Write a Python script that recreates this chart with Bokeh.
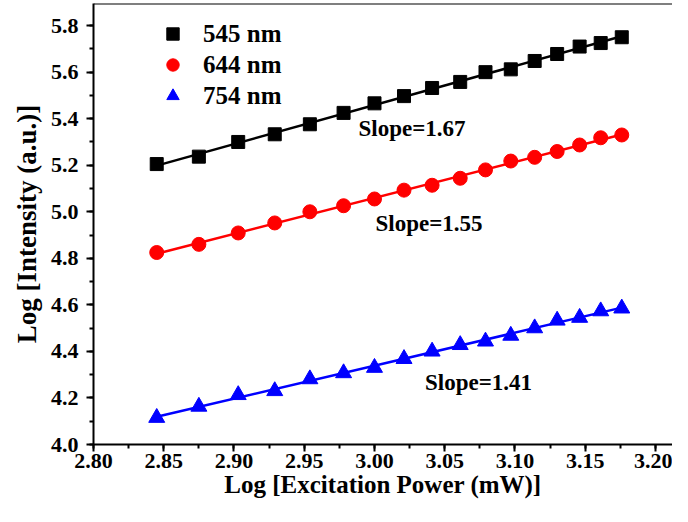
import numpy as np
from bokeh.plotting import figure
from bokeh.models import (Range1d, SingleIntervalTicker, NumeralTickFormatter,
                          Legend, LegendItem, Label, Span)
from bokeh.embed import file_html
from bokeh.resources import INLINE

# ---- data ----
log_power = [2.845, 2.875, 2.903, 2.929, 2.954, 2.978, 3.000, 3.021, 3.041,
             3.061, 3.079, 3.097, 3.114, 3.130, 3.146, 3.161, 3.176]
int_545 = [5.205, 5.237, 5.300, 5.333, 5.376, 5.425, 5.466, 5.497, 5.532,
           5.558, 5.600, 5.612, 5.648, 5.678, 5.710, 5.725, 5.750]
int_644 = [4.825, 4.860, 4.909, 4.952, 5.000, 5.026, 5.055, 5.093, 5.114,
           5.144, 5.180, 5.218, 5.234, 5.259, 5.287, 5.318, 5.330]
int_754 = [4.115, 4.163, 4.213, 4.230, 4.281, 4.307, 4.330, 4.368, 4.400,
           4.428, 4.443, 4.468, 4.500, 4.533, 4.545, 4.573, 4.585]
series_names = ["545 nm", "644 nm", "754 nm"]
slope_texts = ["Slope=1.67", "Slope=1.55", "Slope=1.41"]

FONT = "Liberation Serif"
Y_END = 5.895

p = figure(width=672, height=506, output_backend="svg", toolbar_location=None,
           x_range=Range1d(2.80, 3.2121), y_range=Range1d(4.0, Y_END),
           min_border_left=93, min_border_right=0, min_border_top=3,
           min_border_bottom=62)
p.outline_line_color = None
p.xgrid.visible = False
p.ygrid.visible = False
p.background_fill_color = "white"
p.border_fill_color = "white"

# axes styling
p.xaxis.ticker = SingleIntervalTicker(interval=0.05, num_minor_ticks=2)
p.yaxis.ticker = SingleIntervalTicker(interval=0.2, num_minor_ticks=2)
p.xaxis.formatter = NumeralTickFormatter(format="0.00")
p.yaxis.formatter = NumeralTickFormatter(format="0.0")
for ax in (p.xaxis[0], p.yaxis[0]):
    ax.axis_line_width = 2
    ax.axis_line_color = "black"
    ax.major_tick_line_width = 2
    ax.minor_tick_line_width = 2
    ax.major_tick_line_color = "black"
    ax.minor_tick_line_color = "black"
    ax.major_tick_out = 7
    ax.major_tick_in = 0
    ax.minor_tick_out = 4
    ax.minor_tick_in = 0
    ax.major_label_text_font = FONT
    ax.major_label_text_font_style = "bold"
    ax.major_label_text_font_size = "22px"
    ax.major_label_text_color = "black"
    ax.axis_label_text_font = FONT
    ax.axis_label_text_font_style = "bold"
    ax.axis_label_text_color = "black"
p.xaxis.axis_label = "Log [Excitation Power (mW)]"
p.yaxis.axis_label = "Log [Intensity (a.u.)]"
p.xaxis.axis_label_text_font_size = "25px"
p.yaxis.axis_label_text_font_size = "27px"
p.xaxis.major_label_standoff = 2
p.xaxis.axis_label_standoff = 0
p.yaxis.major_label_standoff = 8
p.yaxis.axis_label_standoff = 6

# top frame line
p.add_layout(Span(location=Y_END, dimension="width", line_color="black", line_width=2))

colors = ["black", "#ff0000", "#0000ff"]
markers = ["square", "circle", "triangle"]
sizes = [13, 14, 16]
data = [int_545, int_644, int_754]
x = np.array(log_power)

items = []
for ys, c, m, s, name in zip(data, colors, markers, sizes, series_names):
    k, b = np.polyfit(x, np.array(ys), 1)
    xf = [x[0], x[-1]]
    p.line(xf, [k * xf[0] + b, k * xf[1] + b], line_color=c, line_width=2.5)
    r = p.scatter(log_power, ys, marker=m, size=s, fill_color=c, line_color=c)
    items.append(LegendItem(label=name, renderers=[r]))

legend = Legend(items=items, location=(64, 333), margin=0, padding=0,
                spacing=0, label_height=31, glyph_height=31, glyph_width=31,
                label_standoff=15, background_fill_alpha=0,
                border_line_color=None,
                label_text_font=FONT, label_text_font_style="bold",
                label_text_font_size="25px", label_text_color="black")
p.add_layout(legend)

slope_pos_x = [2.9886, 3.0007, 3.036]
slope_pos_y = [5.359, 4.951, 4.266]
for t, lx, ly in zip(slope_texts, slope_pos_x, slope_pos_y):
    p.add_layout(Label(x=lx, y=ly, text=t, text_font=FONT, text_font_style="bold",
                       text_font_size="23px", text_baseline="middle",
                       text_color="black"))

open("out.html", "w").write(file_html(p, INLINE))
